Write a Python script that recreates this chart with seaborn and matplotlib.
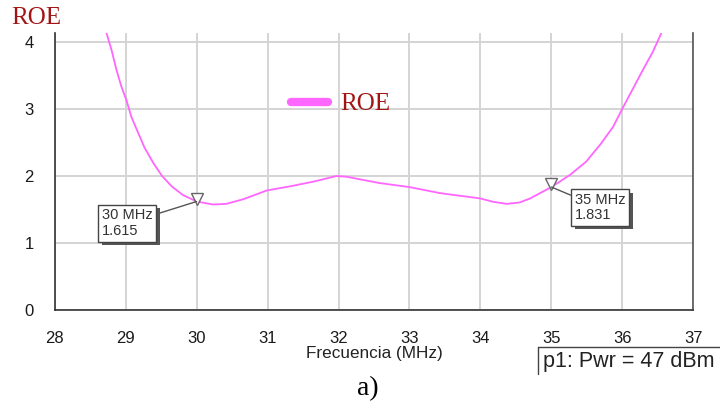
import matplotlib
matplotlib.use("Agg")
import matplotlib.pyplot as plt
import matplotlib.patheffects as pe
import seaborn as sns
import pandas as pd

freq = [28.73, 28.80, 28.87, 28.94, 29.01, 29.08, 29.18, 29.27, 29.39, 29.51, 29.65, 29.81,
        30.0, 30.23, 30.42, 30.66, 30.99, 31.31, 31.64, 31.97, 32.11, 32.58, 33.0, 33.43,
        34.0, 34.18, 34.37, 34.55, 34.70, 34.84, 35.0, 35.26, 35.49, 35.70, 35.87, 36.0,
        36.15, 36.29, 36.43, 36.55]
roe = [4.13, 3.88, 3.58, 3.33, 3.13, 2.88, 2.63, 2.41, 2.19, 2.0, 1.84, 1.71,
       1.615, 1.57, 1.58, 1.65, 1.78, 1.84, 1.91, 1.995, 1.985, 1.89, 1.83, 1.74,
       1.66, 1.61, 1.58, 1.60, 1.66, 1.74, 1.831, 2.01, 2.21, 2.48, 2.73, 3.0,
       3.30, 3.58, 3.85, 4.13]
xticks = [28, 29, 30, 31, 32, 33, 34, 35, 36, 37]
yticks = [0, 1, 2, 3, 4]
markers_x = [30, 35]
markers_y = [1.615, 1.831]
marker_labels = ["30 MHz\n1.615", "35 MHz\n1.831"]

df = pd.DataFrame({"Frecuencia (MHz)": freq, "ROE": roe})

sns.set_style("white")
plt.rcParams["font.family"] = ["Liberation Sans", "DejaVu Sans"]

fig = plt.figure(figsize=(7.2, 4.09), dpi=100)
ax = fig.add_axes([54.7 / 720, 1 - 309.7 / 409, (693.3 - 54.7) / 720, (309.7 - 33) / 409])

magenta = "#ff66ff"
sns.lineplot(data=df, x="Frecuencia (MHz)", y="ROE", ax=ax, color=magenta, lw=1.3,
             label="ROE", sort=False)

ax.set_xlim(28, 37)
ax.set_ylim(0, 4.13)
ax.set_xticks(xticks)
ax.set_yticks(yticks)
ax.grid(True, color="#d4d4d4", lw=1.4)
ax.tick_params(axis="both", length=0, labelsize=12, labelcolor="#1a1a1a")
ax.tick_params(axis="y", pad=15)
ax.tick_params(axis="x", pad=15)
ax.set_ylabel("")
ax.set_xlabel("Frecuencia (MHz)", fontsize=12.3, color="#222222", labelpad=0)

for s in ["left", "bottom"]:
    ax.spines[s].set_color("#333333")
    ax.spines[s].set_linewidth(1.2)
ax.spines["right"].set_color("#555555")
ax.spines["right"].set_linewidth(1.2)
ax.spines["top"].set_visible(False)

leg = ax.legend(loc="center left", bbox_to_anchor=(268 / 720, 1 - 104 / 409),
                bbox_transform=fig.transFigure, frameon=False, handlelength=1.5,
                handletextpad=0.5, prop={"family": "Liberation Serif", "size": 18})
for line in leg.get_lines():
    line.set_linewidth(6)
for t in leg.get_texts():
    t.set_color("#a31515")

# marker annotations
text_pos = [(28.665, 1.29), (35.33, 1.525)]
for mx, my, lab, tp in zip(markers_x, markers_y, marker_labels, text_pos):
    ax.plot([mx], [my + 0.04], marker="v", ms=8, mfc="white", mec="#666666", mew=1, zorder=5)
    t = ax.annotate(lab, xy=(mx, my), xytext=tp,
                    fontsize=10.5, color="#333333", va="center", ha="left",
                    arrowprops=dict(arrowstyle="-", color="#555555", lw=1,
                                    shrinkA=0, shrinkB=0),
                    bbox=dict(boxstyle="square,pad=0.25", fc="white", ec="#444444", lw=1),
                    linespacing=1.15, zorder=6)
    t.get_bbox_patch().set_path_effects([pe.withSimplePatchShadow(offset=(2.5, -2.5),
                                                                  shadow_rgbFace="#555555", alpha=1.0)])

# top-left title
fig.text(11 / 720, 1 - 18 / 409, "ROE", fontsize=18, color="#a31515",
         family="Liberation Serif", va="center", ha="left")

# info box bottom right
fig.add_artist(plt.Line2D([538 / 720, 538 / 720], [1 - 374 / 409, 1 - 347 / 409],
                          transform=fig.transFigure, color="#444444", lw=1))
fig.add_artist(plt.Line2D([538 / 720, 1.0], [1 - 347 / 409, 1 - 347 / 409],
                          transform=fig.transFigure, color="#444444", lw=1))
fig.text(543 / 720, 1 - 362 / 409, "p1: Pwr = 47 dBm", fontsize=15.5, color="#222222",
         va="center", ha="left")

# caption
fig.text(368 / 720, 1 - 389 / 409, "a)", fontsize=20, color="black",
         family="Liberation Serif", va="center", ha="center")

fig.savefig("out.png", dpi=100)
